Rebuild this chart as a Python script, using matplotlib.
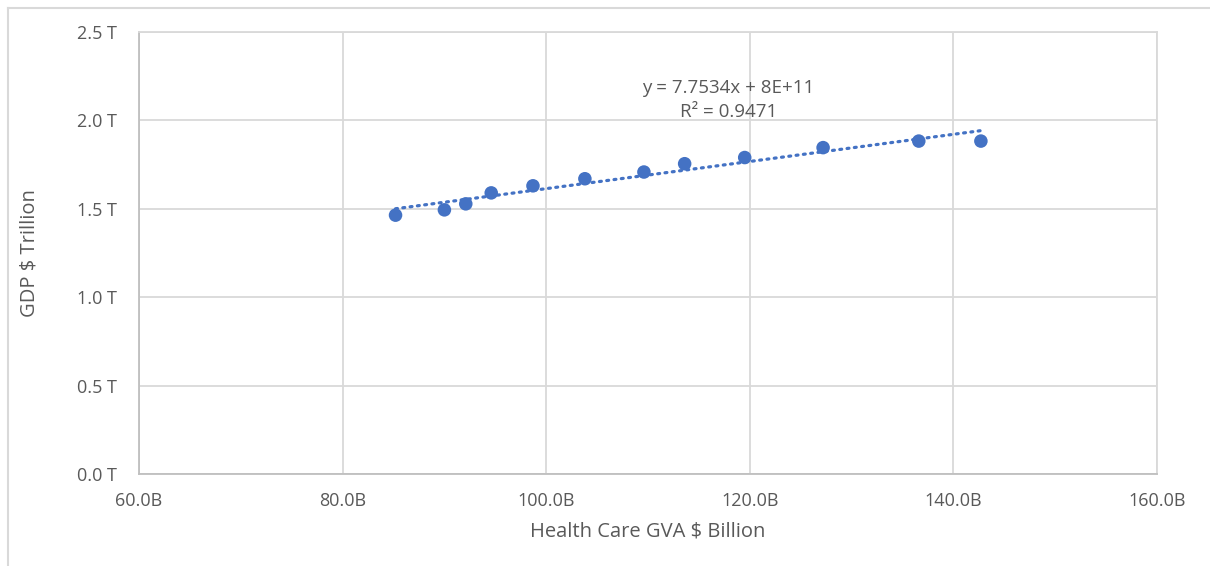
import matplotlib.pyplot as plt
import numpy as np
from matplotlib.lines import Line2D
from matplotlib.ticker import FuncFormatter

# Health care GVA ($ billion) vs GDP ($ trillion)
gva_billion = [85.2, 90.0, 92.1, 94.6, 98.7, 103.8, 109.6, 113.6, 119.5, 127.2, 136.6, 142.7]
gdp_trillion = [1.464, 1.494, 1.528, 1.590, 1.630, 1.670, 1.708, 1.755, 1.790, 1.846, 1.883, 1.883]

x_ticks = [60, 80, 100, 120, 140, 160]
y_ticks = [0.0, 0.5, 1.0, 1.5, 2.0, 2.5]

equation_text = "y = 7.7534x + 8E+11\nR² = 0.9471"

BLUE = "#4472C4"
GRID = "#d9d9d9"
TEXT = "#595959"

plt.rcParams["font.family"] = ["Open Sans", "DejaVu Sans"]

fig = plt.figure(figsize=(12.1, 5.66), dpi=100)
ax = fig.add_axes([139 / 1210, 1 - 474 / 566, 1018 / 1210, 442 / 566])

x = np.array(gva_billion)
y = np.array(gdp_trillion)

# linear trendline, drawn between the extreme points like Excel does
slope, intercept = np.polyfit(x, y, 1)
xs = np.array([x.min(), x.max()])
ax.plot(xs, slope * xs + intercept, color=BLUE, linewidth=2.3,
        linestyle=(0, (0.6, 1.7)), dash_capstyle="round", zorder=2)

ax.scatter(x, y, s=95, color=BLUE, edgecolors="none", zorder=3)

ax.text(117.9, 2.115, equation_text, ha="center", va="center",
        fontsize=13.5, color=TEXT, linespacing=1.4)

ax.set_xlim(60, 160)
ax.set_ylim(0, 2.5)
ax.set_xticks(x_ticks)
ax.set_yticks(y_ticks)
ax.xaxis.set_major_formatter(FuncFormatter(lambda v, _: f"{v:.1f}B"))
ax.yaxis.set_major_formatter(FuncFormatter(lambda v, _: f"{v:.1f} T"))
ax.tick_params(axis="both", length=0, labelsize=13, labelcolor=TEXT)
ax.tick_params(axis="x", pad=13)
ax.tick_params(axis="y", pad=16)

ax.grid(True, color=GRID, linewidth=1.3)
ax.set_axisbelow(True)
for side in ["top", "right"]:
    ax.spines[side].set_color(GRID)
    ax.spines[side].set_linewidth(1.3)
for side in ["left", "bottom"]:
    ax.spines[side].set_color("#bfbfbf")
    ax.spines[side].set_linewidth(1.3)

ax.set_xlabel("Health Care GVA $ Billion", fontsize=14.5, color=TEXT, va="center")
ax.set_ylabel("GDP $ Trillion", fontsize=14.5, color=TEXT, va="center")
ax.xaxis.set_label_coords((648 - 139) / 1018, (474 - 532) / 442)
ax.yaxis.set_label_coords((30 - 139) / 1018, (474 - 253) / 442)

# outer chart border (only top and left visible in the crop)
fig.add_artist(Line2D([8 / 1210, 8 / 1210], [0, 1 - 8 / 566],
                      transform=fig.transFigure, color=GRID, linewidth=1.5))
fig.add_artist(Line2D([8 / 1210, 1], [1 - 8 / 566, 1 - 8 / 566],
                      transform=fig.transFigure, color=GRID, linewidth=1.5))

fig.savefig("out.png", dpi=100)
